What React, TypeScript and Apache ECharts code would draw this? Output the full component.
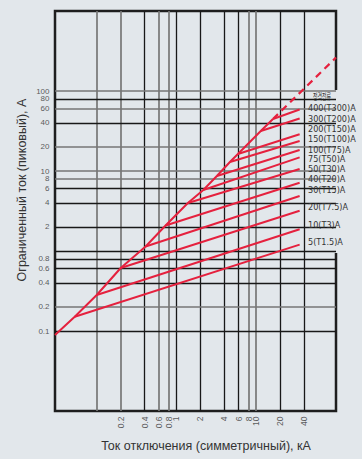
import React, { useEffect, useRef } from 'react';
import * as echarts from 'echarts';

// ---- data ----
const ratings = ['5(T1.5)A', '10(T3)A', '20(T7.5)A', '30(T15)A', '40(T20)A', '50(T30)A', '75(T50)A', '100(T75)A', '150(T100)A', '200(T150)A', '300(T200)A', '400(T300)A'];
// breaking current (kA) where each rated line leaves the envelope
const kinkCurrent = [0.053, 0.1, 0.2, 0.41, 0.73, 1.39, 2.17, 3.21, 4.68, 5.89, 11.4, 16.2];
// limited peak current (kA) at that point
const kinkPeak = [0.151, 0.282, 0.613, 1.14, 2.08, 3.98, 5.79, 8.66, 12.96, 16.3, 31.6, 44.7];
// end of each rated line
const endCurrent = 35;
const endPeak = [1.2, 1.87, 3.19, 4.87, 7.14, 10.6, 14.8, 18.3, 23.7, 28.8, 45.3, 58.7];
// unlimited (prospective) peak envelope
const envelopeStart = [0.03, 0.089];
const envelopeDashedEnd = [100, 262];

const legendTitle = '정격전류';
const xTitle = 'Ток отключения (симметричный), кА';
const yTitle = 'Ограниченный ток (пиковый), А';

const xTicks = [0.1, 0.2, 0.4, 0.6, 0.8, 1, 2, 4, 6, 8, 10, 20, 40];
const xTickLabels = ['', '0.2', '0.4', '0.6', '0.8', '1', '2', '4', '6', '8', '10', '20', '40'];
const xTickDark = [false, false, true, false, false, true, true, true, true, false, false, true, true];
const yTicks = [100, 80, 60, 40, 20, 10, 8, 6, 4, 2, 1, 0.8, 0.6, 0.4, 0.2, 0.1];
const yTickLabels = ['100', '80', '60', '40', '20', '10', '8', '6', '4', '2', '', '0.8', '0.6', '0.4', '0.2', '0.1'];
const yTickDark = [false, true, false, true, false, false, false, true, true, true, true, true, true, true, false, true];

// ---- layout / style ----
const BG = '#e2e7eb';
const RED = '#e5213e';
const DARK = '#181818';
const GRAY = '#767676';
const TXT = '#333333';
const legendY = [241.7, 225, 207.3, 190, 179.3, 169.3, 159.3, 150, 139.3, 129.3, 119, 108];

export default function App() {
  const ref = useRef<HTMLDivElement>(null);
  useEffect(() => {
    document.body.style.margin = '0';
    document.body.style.background = BG;
    const chart = echarts.init(ref.current!, null, { renderer: 'svg' });

    const gridLines: any[] = [];
    xTicks.forEach((v, i) => gridLines.push({ xAxis: v, lineStyle: { color: xTickDark[i] ? DARK : GRAY, width: xTickDark[i] ? 1.3 : 1.7, type: 'solid' } }));
    yTicks.forEach((v, i) => gridLines.push({ yAxis: v, lineStyle: { color: yTickDark[i] ? DARK : GRAY, width: yTickDark[i] ? 1.3 : 1.7, type: 'solid' } }));

    const ratedSeries = ratings.map((name, i) => ({
      type: 'line',
      name,
      data: [[kinkCurrent[i], kinkPeak[i]], [endCurrent, endPeak[i]]],
      symbol: 'none',
      lineStyle: { color: RED, width: 2 },
      z: 5,
      silent: true,
    }));

    const envelope = [envelopeStart, ...kinkCurrent.map((c, i) => [c, kinkPeak[i]])];
    const last = kinkCurrent.length - 1;

    const labelFont = 'Liberation Sans, Arial, sans-serif';

    const option: any = {
      animation: false,
      backgroundColor: BG,
      grid: { left: 55, right: 26, top: 11, bottom: 48, show: true, borderColor: '#1e1e1e', borderWidth: 2.5, backgroundColor: 'transparent' },
      xAxis: {
        type: 'log', logBase: 10, min: 0.03, max: 100,
        axisLine: { show: false }, axisTick: { show: false }, axisLabel: { show: false }, splitLine: { show: false },
      },
      yAxis: {
        type: 'log', logBase: 10, min: 0.01, max: 1000,
        axisLine: { show: false }, axisTick: { show: false }, axisLabel: { show: false }, splitLine: { show: false },
      },
      series: [
        {
          type: 'line', data: [], z: 1, silent: true,
          markLine: { silent: true, symbol: ['none', 'none'], label: { show: false }, data: gridLines, animation: false },
        },
        ...ratedSeries,
        {
          type: 'line', name: 'envelope', data: envelope, symbol: 'none',
          lineStyle: { color: RED, width: 2 }, z: 5, silent: true,
        },
        {
          type: 'line', name: 'envelope-dashed', data: [[kinkCurrent[last], kinkPeak[last]], envelopeDashedEnd], symbol: 'none',
          lineStyle: { color: RED, width: 2.2, type: [7, 5] }, z: 6, silent: true,
        },
        {
          type: 'scatter', name: 'ylabels', silent: true, clip: false, z: 7,
          symbolSize: 1, itemStyle: { color: 'transparent' },
          data: yTicks.map((v, i) => ({ name: yTickLabels[i], value: [0.03, v] })).filter((d) => d.name !== ''),
          label: { show: true, position: 'left', distance: 5, formatter: (p: any) => p.name, fontSize: 8, lineHeight: 7, color: TXT, fontFamily: labelFont },
        },
        {
          type: 'scatter', name: 'xlabels', silent: true, clip: false, z: 7,
          symbolSize: 1, itemStyle: { color: 'transparent' },
          data: xTicks.map((v, i) => ({ name: xTickLabels[i], value: [v, 0.01] })).filter((d) => d.name !== ''),
          label: { show: true, position: 'bottom', distance: 5, rotate: 90, align: 'right', verticalAlign: 'middle', formatter: (p: any) => p.name, fontSize: 8.5, color: TXT, fontFamily: labelFont },
        },
      ],
      graphic: [
        { type: 'rect', z: 3, silent: true, shape: { x: 300, y: 90, width: 50, height: 163 }, style: { fill: BG } },
        { type: 'text', z: 8, x: 322, y: 96, scaleX: 0.55, style: { text: legendTitle, fontSize: 9, fontFamily: 'Noto Sans CJK KR', fill: TXT, textAlign: 'center', textVerticalAlign: 'middle' } },
        ...ratings.map((r, i) => ({
          type: 'text', z: 8, x: 308, y: legendY[i],
          style: { text: r, fontSize: 9, lineHeight: 9, fontFamily: 'Liberation Sans Narrow, DejaVu Sans Condensed, sans-serif', fill: TXT, textAlign: 'left', textVerticalAlign: 'middle' },
        })),
        { type: 'text', z: 8, x: 206, y: 446, style: { text: xTitle, fontSize: 12.5, fontFamily: labelFont, fill: TXT, textAlign: 'center', textVerticalAlign: 'middle' } },
        { type: 'text', z: 8, x: 22, y: 190, rotation: Math.PI / 2, style: { text: yTitle, fontSize: 12.5, fontFamily: labelFont, fill: TXT, textAlign: 'center', textVerticalAlign: 'middle' } },
      ],
    };
    chart.setOption(option);
    return () => chart.dispose();
  }, []);
  return <div ref={ref} style={{ width: 362, height: 459 }} />;
}
